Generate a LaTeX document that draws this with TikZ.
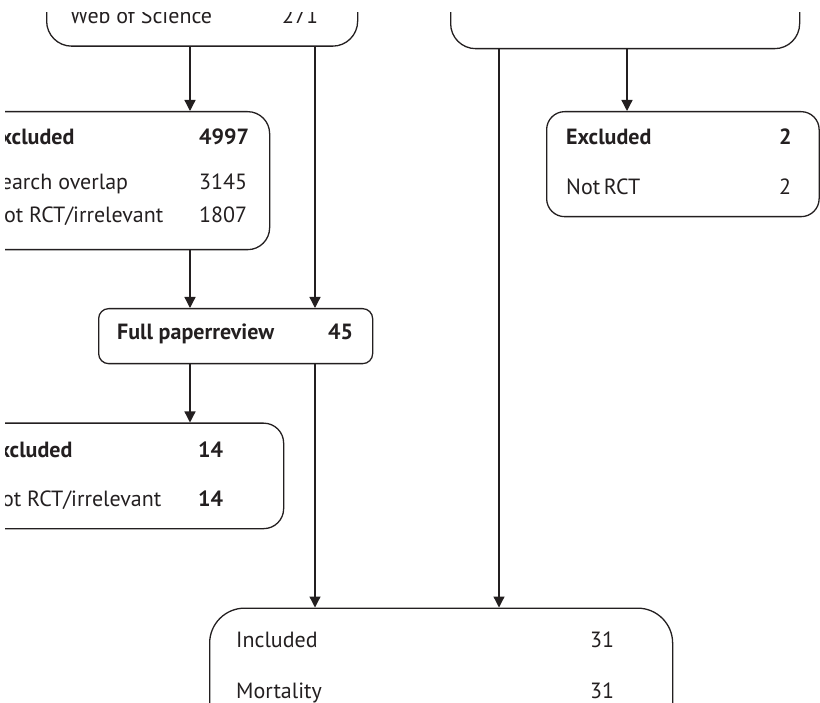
\documentclass[tikz,border=0pt]{standalone}
\usepackage{fontspec}
\setmainfont{PT Sans}
\usetikzlibrary{arrows.meta}
\definecolor{ink}{HTML}{231F20}
\tikzset{
  box/.style={draw=ink, line width=1.3pt, rectangle, inner sep=0pt, anchor=north west},
  arr/.style={draw=ink, line width=1.3pt, -{Triangle[width=11pt,length=11pt]}},
  txt/.style={anchor=base west, inner sep=0pt, text=ink, font=\fontsize{22}{26}\selectfont},
  btxt/.style={txt, font=\fontsize{22}{26}\selectfont\bfseries},
}
\begin{document}
\begin{tikzpicture}[x=1pt,y=-1pt]
\useasboundingbox (0,0) rectangle (820,703);
\clip (5,13) rectangle (820,703);
% boxes
\node[box, rounded corners=25pt, minimum width=311pt, minimum height=125.5pt] (srcL) at (46,-80) {};
\node[box, rounded corners=25pt, minimum width=349pt, minimum height=128pt] (srcR) at (450,-80) {};
\node[box, rounded corners=22pt, minimum width=301pt, minimum height=138pt] (exc1) at (-32,111) {};
\node[box, rounded corners=10pt, minimum width=274pt, minimum height=55pt] (fpr) at (98,308) {};
\node[box, rounded corners=20pt, minimum width=315pt, minimum height=105.5pt] (exc2) at (-32,422.5) {};
\node[box, rounded corners=18pt, minimum width=272.5pt, minimum height=105pt] (exc3) at (546,111) {};
\node[box, rounded corners=35pt, minimum width=463pt, minimum height=200pt] (incl) at (209,607.5) {};
% texts
\node[txt] (t1) at (70,24) {Web of Science};
\node[txt] (t1n) at (282,24) {271};
\node[btxt] (t2) at (-11,145) {Excluded};
\node[btxt] (t2n) at (199,145) {4997};
\node[txt] (t3) at (-11,190) {Search overlap};
\node[txt] (t3n) at (199,190) {3145};
\node[txt] (t4) at (-11,223) {Not RCT/irrelevant};
\node[txt] (t4n) at (199,223) {1807};
\node[btxt] (t5) at (117,340) {Full paperreview};
\node[btxt] (t5n) at (328,340) {45};
\node[btxt] (t6) at (-13,457) {Excluded};
\node[btxt] (t6n) at (198,457) {14};
\node[txt] (t7) at (-13,507) {Not RCT/irrelevant};
\node[btxt] (t7n) at (198,507) {14};
\node[btxt] (t8) at (566,145) {Excluded};
\node[btxt] (t8n) at (779,145) {2};
\node[txt] (t9) at (566,195) {Not\,RCT};
\node[txt] (t9n) at (779,195) {2};
\node[txt] (t10) at (236,647) {Included};
\node[txt] (t10n) at (590,647) {31};
\node[txt] (t11) at (236,698) {Mortality};
\node[txt] (t11n) at (590,698) {31};
% connector x positions
\coordinate (cA) at (190,0);
\coordinate (cB) at (315,0);
\coordinate (cC) at (499,0);
\coordinate (cD) at (627,0);
% connectors
\draw[arr] (srcL.south -| cA) -- (exc1.north -| cA);
\draw[arr] (srcL.south -| cB) -- (fpr.north -| cB);
\draw[arr] (exc1.south -| cA) -- (fpr.north -| cA);
\draw[arr] (fpr.south -| cA) -- (exc2.north -| cA);
\draw[arr] (fpr.south -| cB) -- (incl.north -| cB);
\draw[arr] (srcR.south -| cC) -- (incl.north -| cC);
\draw[arr] (srcR.south -| cD) -- (exc3.north -| cD);
\end{tikzpicture}
\end{document}
